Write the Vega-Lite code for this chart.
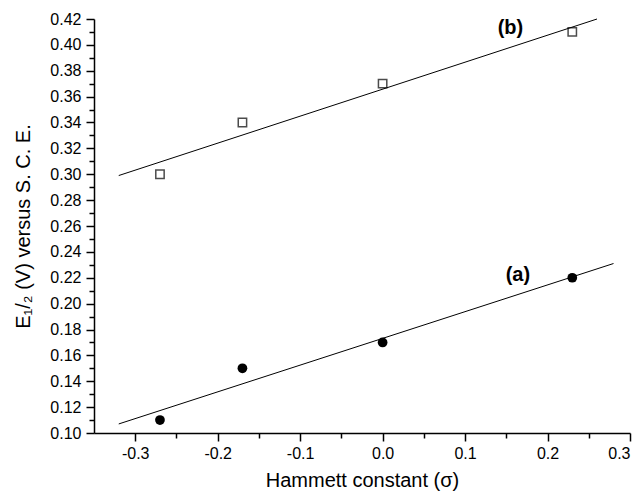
{
  "$schema": "https://vega.github.io/schema/vega-lite/v6.json",
  "width": 536,
  "height": 414,
  "autosize": "none",
  "padding": {"left": 94, "top": 19, "right": 13, "bottom": 62},
  "background": "white",
  "config": {
    "view": {"stroke": null},
    "font": "Liberation Sans",
    "axis": {
      "domainColor": "black",
      "domainWidth": 1.5,
      "tickColor": "black",
      "tickWidth": 1.5,
      "labelColor": "black",
      "titleColor": "black",
      "labelFont": "Liberation Sans",
      "titleFont": "Liberation Sans",
      "labelFontSize": 16,
      "titleFontSize": 20,
      "titleFontWeight": "normal",
      "grid": false
    }
  },
  "datasets": {
    "pts": [
      {"series": "a", "sigma": -0.27, "E": 0.11},
      {"series": "a", "sigma": -0.17, "E": 0.15},
      {"series": "a", "sigma": 0.0, "E": 0.17},
      {"series": "a", "sigma": 0.23, "E": 0.22},
      {"series": "b", "sigma": -0.27, "E": 0.30},
      {"series": "b", "sigma": -0.17, "E": 0.34},
      {"series": "b", "sigma": 0.0, "E": 0.37},
      {"series": "b", "sigma": 0.23, "E": 0.41}
    ],
    "fits": [
      {"series": "a", "sigma": -0.32, "E": 0.107},
      {"series": "a", "sigma": 0.28, "E": 0.231},
      {"series": "b", "sigma": -0.32, "E": 0.299},
      {"series": "b", "sigma": 0.26, "E": 0.42}
    ],
    "labels": [
      {"label": "(a)", "sigma": 0.164, "E": 0.222},
      {"label": "(b)", "sigma": 0.155, "E": 0.413}
    ]
  },
  "resolve": {"axis": {"x": "independent", "y": "independent"}},
  "layer": [
    {
      "data": {"name": "fits"},
      "mark": {"type": "line", "color": "black", "strokeWidth": 1},
      "encoding": {
        "x": {
          "field": "sigma", "type": "quantitative",
          "scale": {"domain": [-0.35, 0.3], "nice": false, "zero": false},
          "axis": {
            "orient": "bottom",
            "title": "Hammett constant (σ)",
            "values": [-0.3, -0.2, -0.1, 0, 0.1, 0.2, 0.3],
            "labelExpr": "datum.value < 0 ? '-' + format(-datum.value, '.1f') : format(datum.value, '.1f')",
            "tickSize": 8,
            "labelPadding": 4,
            "titlePadding": 9
          }
        },
        "y": {
          "field": "E", "type": "quantitative",
          "scale": {"domain": [0.10, 0.42], "nice": false, "zero": false},
          "axis": {
            "orient": "left",
            "title": "E₁/₂ (V) versus S. C. E.",
            "values": [0.10, 0.12, 0.14, 0.16, 0.18, 0.20, 0.22, 0.24, 0.26, 0.28, 0.30, 0.32, 0.34, 0.36, 0.38, 0.40, 0.42],
            "format": ".2f",
            "tickSize": 8,
            "labelPadding": 5,
            "titlePadding": 16
          }
        },
        "detail": {"field": "series"}
      }
    },
    {
      "data": {"name": "pts"},
      "transform": [{"filter": "datum.series === 'b'"}],
      "mark": {"type": "point", "shape": "square", "filled": false, "color": "black", "strokeWidth": 1.5, "size": 70},
      "encoding": {
        "x": {"field": "sigma", "type": "quantitative", "axis": null},
        "y": {"field": "E", "type": "quantitative", "axis": null}
      }
    },
    {
      "data": {"name": "pts"},
      "transform": [{"filter": "datum.series === 'a'"}],
      "mark": {"type": "point", "shape": "circle", "filled": true, "color": "black", "opacity": 1, "size": 95},
      "encoding": {
        "x": {"field": "sigma", "type": "quantitative", "axis": null},
        "y": {"field": "E", "type": "quantitative", "axis": null}
      }
    },
    {
      "data": {"name": "labels"},
      "mark": {"type": "text", "fontWeight": "bold", "fontSize": 20, "color": "black", "font": "Liberation Sans"},
      "encoding": {
        "x": {"field": "sigma", "type": "quantitative", "axis": null},
        "y": {"field": "E", "type": "quantitative", "axis": null},
        "text": {"field": "label"}
      }
    },
    {
      "data": {"name": "fits"},
      "mark": {"type": "point", "opacity": 0},
      "encoding": {
        "x": {
          "field": "sigma", "type": "quantitative",
          "axis": {
            "orient": "bottom", "title": null, "labels": false, "domain": false,
            "values": [-0.25, -0.15, -0.05, 0.05, 0.15, 0.25],
            "tickSize": 5
          }
        },
        "y": {
          "field": "E", "type": "quantitative",
          "axis": {
            "orient": "left", "title": null, "labels": false, "domain": false,
            "values": [0.11, 0.13, 0.15, 0.17, 0.19, 0.21, 0.23, 0.25, 0.27, 0.29, 0.31, 0.33, 0.35, 0.37, 0.39, 0.41],
            "tickSize": 5
          }
        }
      }
    }
  ]
}
